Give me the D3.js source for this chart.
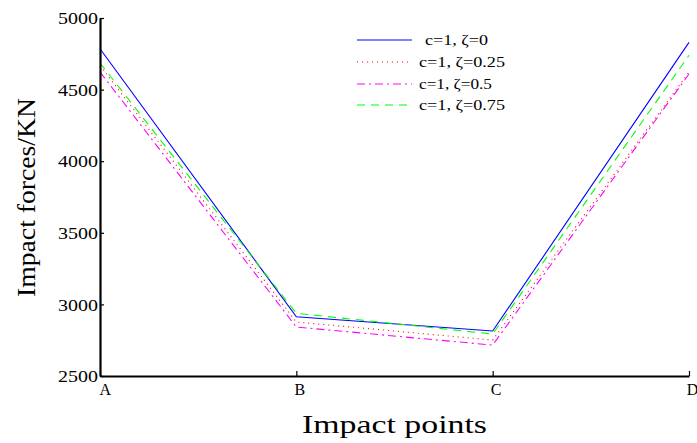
<!DOCTYPE html>
<html>
<head>
<meta charset="utf-8">
<script src="https://cdn.jsdelivr.net/npm/d3@7"></script>
<style>
  html, body { margin: 0; padding: 0; background: #fff; }
  svg { display: block; }
  text { font-family: "Liberation Serif", "DejaVu Serif", serif; fill: #000; }
</style>
</head>
<body>
<svg id="chart" width="697" height="443"></svg>
<script>
const categories = ["A", "B", "C", "D"];
const yTicks = [2500, 3000, 3500, 4000, 4500, 5000];
const seriesNames = ["c=1, \u03b6=0", "c=1, \u03b6=0.25", "c=1, \u03b6=0.5", "c=1, \u03b6=0.75"];
const zeta0    = [4785, 2914, 2814, 4830];
const zeta025  = [4668, 2877, 2751, 4622];
const zeta05   = [4623, 2842, 2716, 4609];
const zeta075  = [4686, 2938, 2793, 4740];
const seriesColors = ["#0000ff", "#ff0000", "#ff00ff", "#00ff00"];
const seriesDash = [null, "1,4", "8,4,2,4", "8,6"];

const seriesValues = [zeta0, zeta025, zeta05, zeta075];

const svg = d3.select("#chart");
const x = d3.scalePoint().domain(categories).range([100, 689]);
const y = d3.scaleLinear().domain([2500, 5000]).range([376, 18]);

// series lines
const line = d3.line().x((d, i) => x(categories[i])).y(d => y(d));
seriesValues.forEach((vals, k) => {
  svg.append("path")
    .attr("d", line(vals))
    .attr("fill", "none")
    .attr("stroke", seriesColors[k])
    .attr("stroke-width", 1.1)
    .attr("stroke-dasharray", seriesDash[k]);
});

// y axis
const yAxis = svg.append("g").attr("transform", "translate(100,0)")
  .call(d3.axisLeft(y).tickValues(yTicks).tickFormat(d3.format("d")).tickSizeInner(-4).tickSizeOuter(0).tickPadding(2));
yAxis.select(".domain").attr("stroke", "#000").attr("stroke-width", 2.2);
yAxis.selectAll(".tick line").attr("stroke", "#000").attr("stroke-width", 1.2);
yAxis.selectAll(".tick text")
  .attr("font-size", 17.5)
  .attr("font-family", "Liberation Serif, serif")
  .attr("x", -2)
  .attr("textLength", 40)
  .attr("lengthAdjust", "spacingAndGlyphs");

// x axis
const xAxis = svg.append("g").attr("transform", "translate(0,376)")
  .call(d3.axisBottom(x).tickSizeInner(-5).tickSizeOuter(0).tickPadding(0));
xAxis.select(".domain").attr("stroke", "#000").attr("stroke-width", 2.2);
xAxis.selectAll(".tick line").attr("stroke", "#000").attr("stroke-width", 1.2);
xAxis.selectAll(".tick text")
  .attr("font-size", 16)
  .attr("font-family", "Liberation Serif, serif")
  .attr("dy", null)
  .attr("y", 19)
  .attr("text-anchor", d => d === "A" ? "start" : "middle")
  .attr("x", d => d === "A" ? -1 : 3);

// axis titles
svg.append("text")
  .attr("x", 302).attr("y", 433)
  .attr("font-size", 25)
  .attr("textLength", 185)
  .attr("lengthAdjust", "spacingAndGlyphs")
  .text("Impact points");

svg.append("text")
  .attr("transform", "translate(35,297) rotate(-90)")
  .attr("font-size", 26)
  .attr("textLength", 199)
  .attr("lengthAdjust", "spacingAndGlyphs")
  .text("Impact forces/KN");

// legend
const legY = [40, 62, 84, 105];
const legTextX = [425, 419, 419, 419];
const legTextLen = [63, 86, 73, 86];
seriesNames.forEach((name, k) => {
  svg.append("line")
    .attr("x1", 357).attr("x2", 412)
    .attr("y1", legY[k]).attr("y2", legY[k])
    .attr("stroke", seriesColors[k])
    .attr("stroke-width", 1.1)
    .attr("stroke-dasharray", seriesDash[k]);
  svg.append("text")
    .attr("x", legTextX[k]).attr("y", legY[k] + 5)
    .attr("font-size", 14)
    .attr("textLength", legTextLen[k])
    .attr("lengthAdjust", "spacingAndGlyphs")
    .text(name);
});
</script>
</body>
</html>
